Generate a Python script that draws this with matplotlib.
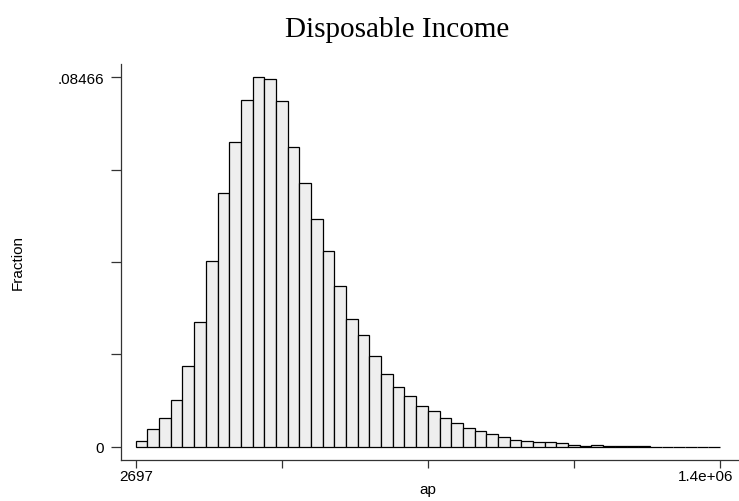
import matplotlib
matplotlib.use("Agg")
import matplotlib.pyplot as plt
import matplotlib.transforms as mtransforms
import numpy as np

# ---- data ----
x_min = 2697
x_max = 1400000
n_bins = 50
fraction = [
    0.00138, 0.00406, 0.00651, 0.01077, 0.01843, 0.02865, 0.04263, 0.05822, 0.06984, 0.07946,
    0.08466, 0.08420, 0.07917, 0.06876, 0.06037, 0.05226, 0.04486, 0.03683, 0.02920, 0.02567,
    0.02072, 0.01673, 0.01375, 0.01162, 0.00940, 0.00825, 0.00651, 0.00536, 0.00422, 0.00353,
    0.00291, 0.00229, 0.00147, 0.00130, 0.00115, 0.00100, 0.00078, 0.00040, 0.00018, 0.00050,
    0.00020, 0.00020, 0.00006, 0.00005, 0.00004, 0.00003, 0.00003, 0.00002, 0.00002, 0.00002,
]
y_max_label = 0.08466
title = "Disposable Income"
xlabel = "ap"
ylabel = "Fraction"
xtick_labels = ["2697", "1.4e+06"]
ytick_labels = ["0", ".08466"]

W, H = 739, 502
fig = plt.figure(figsize=(W / 100, H / 100), dpi=100)

# axes frame in pixels
ax_left, ax_right = 120.7, 739.0
ax_bottom, ax_top = 460.7, 65.0
ax = fig.add_axes([ax_left / W, 1 - ax_bottom / H, (ax_right - ax_left) / W, (ax_bottom - ax_top) / H])

# data-to-pixel mapping
px_x0, px_x1 = 135.7, 720.0
px_y0, px_y1 = 447.7, 78.3
sx = (x_max - x_min) / (px_x1 - px_x0)
sy = y_max_label / (px_y0 - px_y1)
ax.set_xlim(x_min - (px_x0 - ax_left) * sx, x_max + (ax_right - px_x1) * sx)
ax.set_ylim(0 - (ax_bottom - px_y0) * sy, y_max_label + (px_y1 - ax_top) * sy)

edges = np.linspace(x_min, x_max, n_bins + 1)
width = edges[1] - edges[0]
ax.bar(edges[:-1], fraction, width=width, align="edge",
       color="#eeeeee", edgecolor="black", linewidth=0.9)

# spines
for s in ["top", "right"]:
    ax.spines[s].set_visible(False)
for s in ["left", "bottom"]:
    ax.spines[s].set_color("#333333")
    ax.spines[s].set_linewidth(0.9)

# ticks
xt = np.linspace(x_min, x_max, 5)
ax.set_xticks(xt)
ax.set_xticklabels([xtick_labels[0], "", "", "", xtick_labels[1]])
yt = np.linspace(0, y_max_label, 5)
ax.set_yticks(yt)
ax.set_yticklabels([ytick_labels[0], "", "", "", ytick_labels[1]])
ax.tick_params(axis="x", direction="out", length=5.5, width=0.9, color="#333333",
               labelsize=11, pad=1.5)
ax.tick_params(axis="y", direction="out", length=7, width=0.9, color="#333333",
               labelsize=11, pad=5)
for lab in ax.get_xticklabels() + ax.get_yticklabels():
    lab.set_fontfamily("Liberation Sans")
# shift the last x label left so it stays inside the figure
lbl = ax.get_xticklabels()[-1]
lbl.set_transform(lbl.get_transform() + mtransforms.ScaledTranslation(-14 / 100, 0, fig.dpi_scale_trans))

# labels and title
fig.text(427.9 / W, 1 - 494 / H, xlabel, ha="center", va="baseline",
         fontsize=11, family="Liberation Sans")
fig.text(18 / W, 1 - 263 / H, ylabel, ha="center", va="center", rotation=90,
         fontsize=11, family="Liberation Sans")
fig.text(396.7 / W, 1 - 37.3 / H, title, ha="center", va="baseline",
         fontsize=21, family="Liberation Serif")

fig.savefig("out.png", dpi=100)
